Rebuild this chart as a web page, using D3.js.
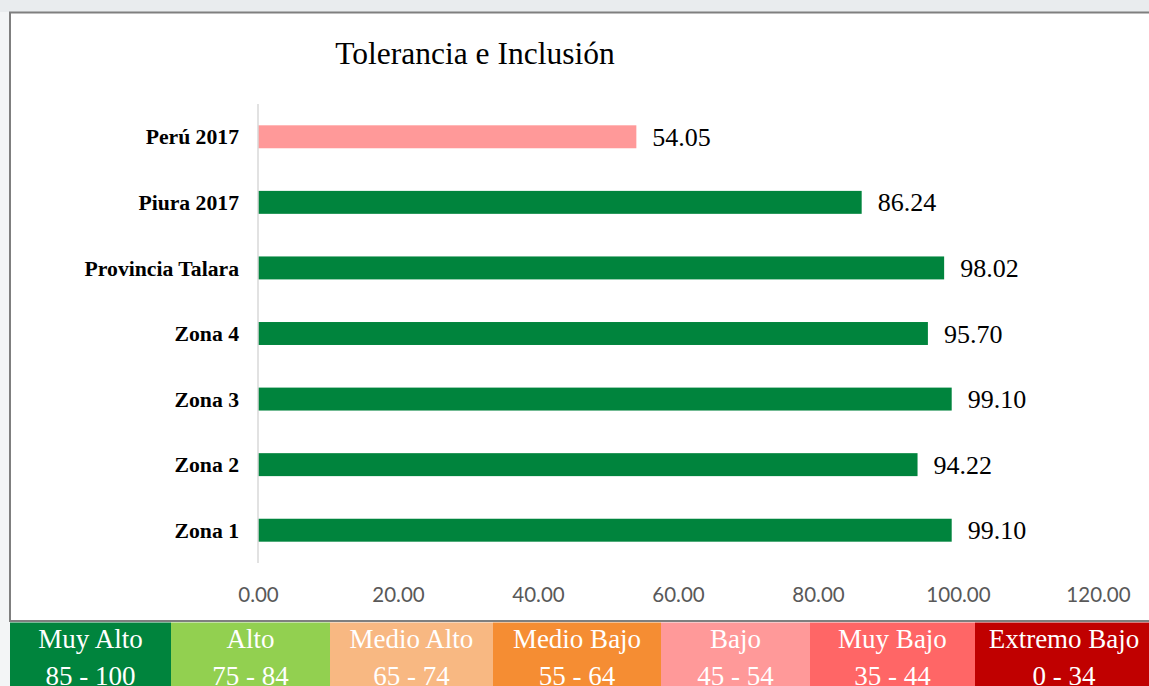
<!DOCTYPE html>
<html>
<head>
<meta charset="utf-8">
<script src="https://cdn.jsdelivr.net/npm/d3@7"></script>
<style>
  html, body { margin: 0; padding: 0; background: #f3f5f6; }
  svg { display: block; }
</style>
</head>
<body>
<svg id="chart" width="1149" height="686"></svg>
<script>
// ---- data ----
const categories = ["Perú 2017", "Piura 2017", "Provincia Talara", "Zona 4", "Zona 3", "Zona 2", "Zona 1"];
const values = [54.05, 86.24, 98.02, 95.70, 99.10, 94.22, 99.10];
const barColors = ["#FF9999", "#00843D", "#00843D", "#00843D", "#00843D", "#00843D", "#00843D"];
const tickValues = [0, 20, 40, 60, 80, 100, 120];
const legendNames = ["Muy Alto", "Alto", "Medio Alto", "Medio Bajo", "Bajo", "Muy Bajo", "Extremo Bajo"];
const legendRanges = ["85 - 100", "75 - 84", "65 - 74", "55 - 64", "45 - 54", "35 - 44", "0 - 34"];
const legendColors = ["#00843D", "#92D050", "#F8B882", "#F58D33", "#FF9999", "#FF6666", "#C00000"];
const title = "Tolerancia e Inclusión";

// ---- layout ----
const svg = d3.select("#chart");
const serif = "'Liberation Serif', 'Times New Roman', serif";

// top background strip
svg.append("rect").attr("x", 0).attr("y", 0).attr("width", 1149).attr("height", 12).attr("fill", "#e9ecee");

// frame
svg.append("rect")
  .attr("x", 10).attr("y", 12.5).attr("width", 1160).attr("height", 608.5)
  .attr("fill", "#ffffff").attr("stroke", "#7f7f7f").attr("stroke-width", 2);

const x = d3.scaleLinear().domain([0, 120]).range([258, 1098]);
const y = d3.scaleBand().domain(categories).range([104, 563]).paddingInner(0.65).paddingOuter(0.325);

// title
svg.append("text").attr("x", 475).attr("y", 64).attr("text-anchor", "middle")
  .attr("font-family", serif).attr("font-size", 31.5).attr("fill", "#000").text(title);

// bars
svg.append("g").selectAll("rect").data(values).join("rect")
  .attr("x", x(0))
  .attr("y", (d, i) => y(categories[i]))
  .attr("width", d => x(d) - x(0))
  .attr("height", y.bandwidth())
  .attr("fill", (d, i) => barColors[i]);

// category axis line
svg.append("line").attr("x1", x(0)).attr("x2", x(0)).attr("y1", 104).attr("y2", 563)
  .attr("stroke", "#d9d9d9").attr("stroke-width", 1.5);

// category labels
const yAxis = d3.axisLeft(y).tickSize(0).tickPadding(18);
const yg = svg.append("g").attr("transform", `translate(${x(0)},0)`).call(yAxis);
yg.select(".domain").remove();
yg.selectAll("text").attr("font-family", serif).attr("font-size", 21.7).attr("font-weight", "bold")
  .attr("fill", "#000").attr("dy", "0.35em").attr("x", -19);

// value labels
svg.append("g").selectAll("text").data(values).join("text")
  .attr("x", d => x(d) + 16)
  .attr("y", (d, i) => y(categories[i]) + y.bandwidth() / 2)
  .attr("dy", "0.35em")
  .attr("font-family", serif).attr("font-size", 26).attr("fill", "#000")
  .text(d => d3.format(".2f")(d));

// x axis
const xAxis = d3.axisBottom(x).tickValues(tickValues).tickFormat(d3.format(".2f")).tickSize(0).tickPadding(0);
const xg = svg.append("g").attr("transform", "translate(0,602)").call(xAxis);
xg.select(".domain").remove();
xg.selectAll("text").attr("dy", 0).attr("y", 0)
  .attr("font-family", "Lato, 'Open Sans', sans-serif").attr("font-size", 20.5).attr("fill", "#595959");

// legend table
const legendEdges = [10, 171, 330, 493, 661, 810, 975, 1160];
const lg = svg.append("g");
legendNames.forEach((name, i) => {
  const x0 = legendEdges[i], x1 = legendEdges[i + 1];
  lg.append("rect").attr("x", x0).attr("y", 622.5).attr("width", x1 - x0).attr("height", 70).attr("fill", legendColors[i]);
  const cx = i === legendNames.length - 1 ? 1064 : (x0 + x1) / 2;
  lg.append("text").attr("x", cx).attr("y", 648).attr("text-anchor", "middle")
    .attr("font-family", serif).attr("font-size", 27).attr("fill", "#fff").text(name);
  lg.append("text").attr("x", cx).attr("y", 685).attr("text-anchor", "middle")
    .attr("font-family", serif).attr("font-size", 27).attr("fill", "#fff").text(legendRanges[i]);
});
</script>
</body>
</html>
